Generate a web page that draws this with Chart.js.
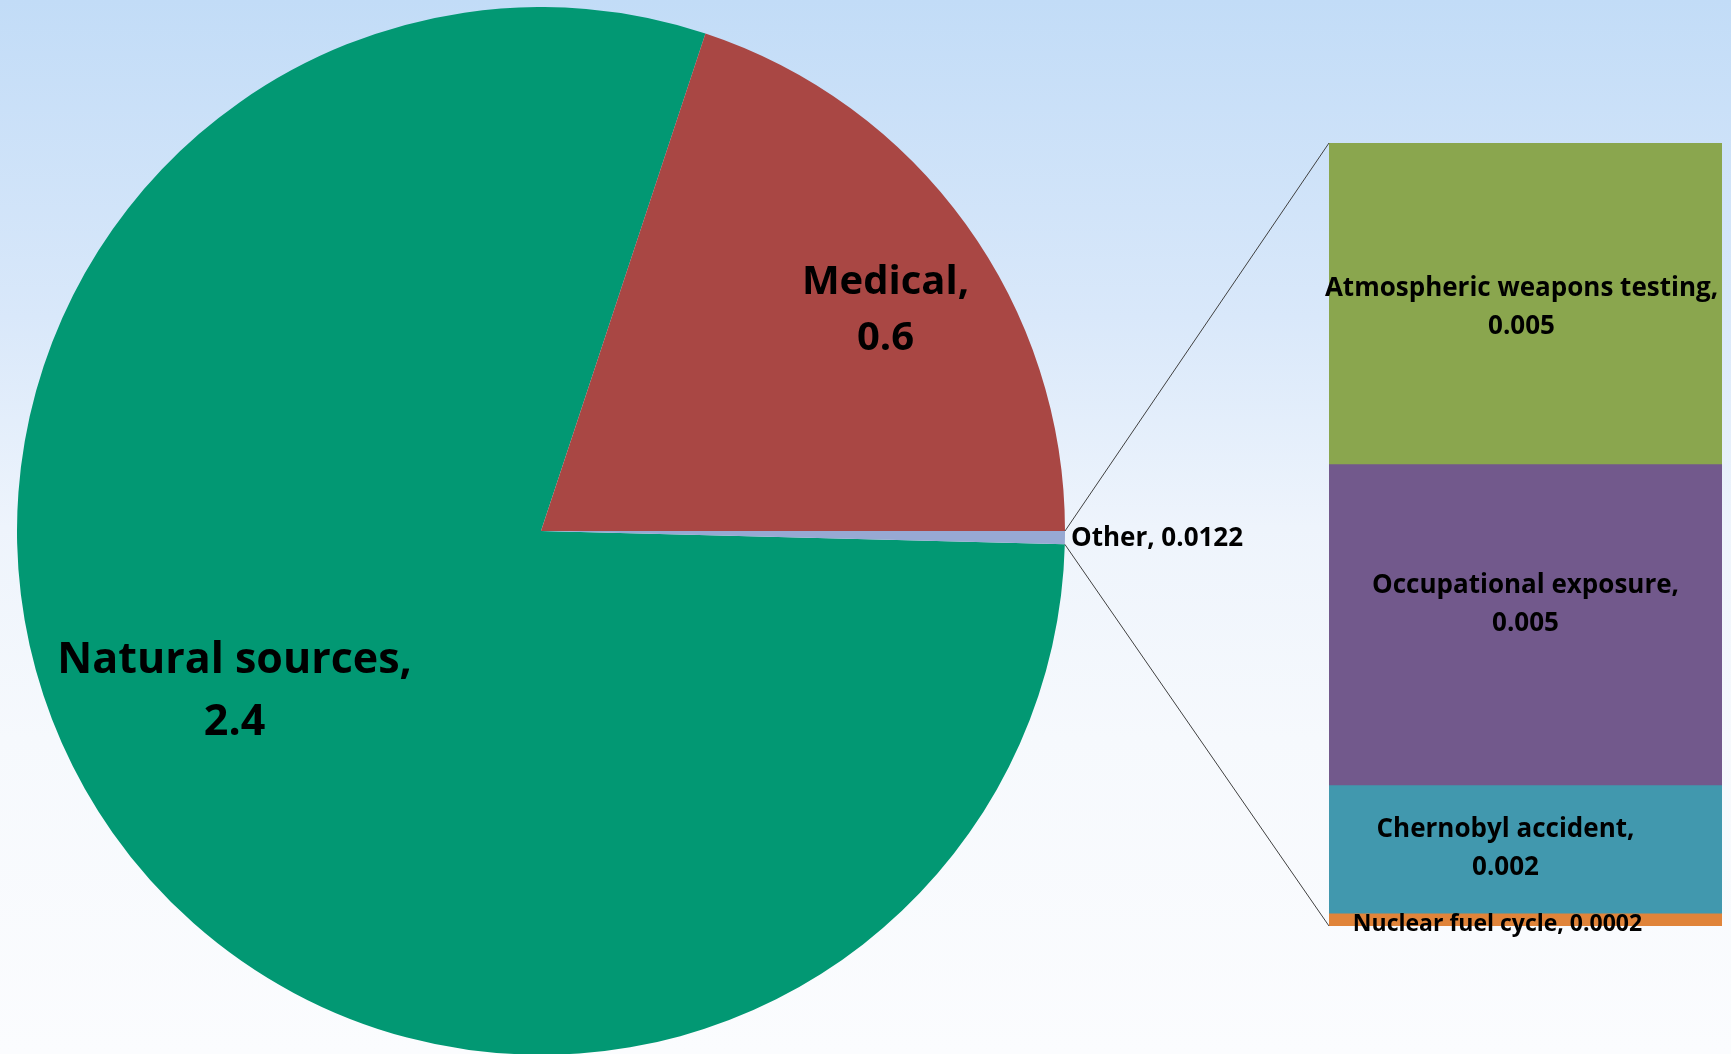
<!DOCTYPE html>
<html>
<head>
<meta charset="utf-8">
<script src="https://cdn.jsdelivr.net/npm/chart.js@4.4.1/dist/chart.umd.min.js"></script>
<style>
  html, body { margin: 0; padding: 0; }
  body {
    width: 1731px; height: 1054px; overflow: hidden; position: relative;
    background: linear-gradient(to bottom, #c2dcf7 0%, #d9e8fa 30%, #eef4fc 50%, #f6f9fd 70%, #fbfcfe 100%);
  }
  #pieChart { position: absolute; left: 17px; top: 7px; }
  #barChart { position: absolute; left: 1060px; top: 0px; }
</style>
</head>
<body>
<canvas id="pieChart" width="1048" height="1048"></canvas>
<canvas id="barChart" width="671" height="1054"></canvas>
<script>
// main pie
const pieLabels = ['Natural sources', 'Medical', 'Other'];
const pieValues = [2.4, 0.6, 0.0122];
const pieColors = ['#029873', '#a94744', '#97a9d3'];

// breakdown of "Other"
const otherLabels = ['Atmospheric weapons testing', 'Occupational exposure', 'Chernobyl accident', 'Nuclear fuel cycle'];
const otherValues = [0.005, 0.005, 0.002, 0.0002];
const otherColors = ['#8aa64e', '#72598c', '#4198ae', '#e0843a'];

const FONT = '"Open Sans", sans-serif';
const pieTotal = pieValues.reduce((a, b) => a + b, 0);
const otherTotal = otherValues.reduce((a, b) => a + b, 0);

// label placement per slice: angle shift (deg), radius factor, font size, line gap
const pieLabelPlace = [
  { shift: 7.5, r: 0.66, size: 43, gap: 31 },
  { shift: 3.3, r: 0.78, size: 40, gap: 28 },
  null
];
// nudges for the bar labels (px)
const barLabelNudge = [[-4, 4], [0, -20], [-20, 0], [-28, 5]];

const pieLabelPlugin = {
  id: 'pieLabels',
  afterDatasetsDraw(chart) {
    const ctx = chart.ctx;
    const meta = chart.getDatasetMeta(0);
    ctx.save();
    ctx.fillStyle = '#000';
    ctx.textAlign = 'center';
    ctx.textBaseline = 'middle';
    meta.data.forEach((arc, i) => {
      const place = pieLabelPlace[i];
      if (!place) return; // drawn beside the bar chart
      const mid = (arc.startAngle + arc.endAngle) / 2;
      const a = mid + place.shift * Math.PI / 180;
      const x = arc.x + Math.cos(a) * arc.outerRadius * place.r;
      const y = arc.y + Math.sin(a) * arc.outerRadius * place.r;
      ctx.font = 'bold ' + place.size + 'px ' + FONT;
      ctx.fillText(pieLabels[i] + ',', x, y - place.gap);
      ctx.fillText(String(pieValues[i]), x, y + place.gap);
    });
    ctx.restore();
  }
};

const pieChart = new Chart(document.getElementById('pieChart'), {
  type: 'pie',
  data: {
    labels: pieLabels,
    datasets: [{
      data: pieValues,
      backgroundColor: pieColors,
      borderWidth: 0
    }]
  },
  options: {
    responsive: false,
    animation: false,
    rotation: 90 + 360 * pieValues[2] / pieTotal,
    plugins: { legend: { display: false }, tooltip: { enabled: false } }
  },
  plugins: [pieLabelPlugin]
});

// connector lines from the "Other" slice to the stacked bar, plus labels
const barExtrasPlugin = {
  id: 'barExtras',
  afterDatasetsDraw(chart) {
    const ctx = chart.ctx;
    const pieRect = pieChart.canvas.getBoundingClientRect();
    const barRect = chart.canvas.getBoundingClientRect();
    const dx = pieRect.left - barRect.left;
    const dy = pieRect.top - barRect.top;
    const arc = pieChart.getDatasetMeta(0).data[2];
    const r = arc.outerRadius;
    const p1 = { x: arc.x + Math.cos(arc.startAngle) * r + dx, y: arc.y + Math.sin(arc.startAngle) * r + dy };
    const p2 = { x: arc.x + Math.cos(arc.endAngle) * r + dx, y: arc.y + Math.sin(arc.endAngle) * r + dy };
    const midA = (arc.startAngle + arc.endAngle) / 2;

    const first = chart.getDatasetMeta(0).data[0];
    const last = chart.getDatasetMeta(otherValues.length - 1).data[0];
    const topY = Math.min(first.y, first.base);
    const botY = Math.max(last.y, last.base);
    const leftX = first.x - first.width / 2;

    ctx.save();
    ctx.strokeStyle = '#404040';
    ctx.lineWidth = 1;
    ctx.beginPath();
    ctx.moveTo(p1.x, p1.y);
    ctx.lineTo(leftX, topY);
    ctx.moveTo(p2.x, p2.y);
    ctx.lineTo(leftX, botY);
    ctx.stroke();

    ctx.fillStyle = '#000';
    // "Other" slice label
    ctx.font = 'bold 26px ' + FONT;
    ctx.textAlign = 'left';
    ctx.textBaseline = 'middle';
    ctx.fillText(pieLabels[2] + ', ' + pieValues[2],
      arc.x + Math.cos(midA) * r + dx + 6, arc.y + Math.sin(midA) * r + dy + 1);

    ctx.textAlign = 'center';
    otherValues.forEach((v, i) => {
      const bar = chart.getDatasetMeta(i).data[0];
      const cx = bar.x + barLabelNudge[i][0];
      const cy = (bar.y + bar.base) / 2 + barLabelNudge[i][1];
      const h = Math.abs(bar.base - bar.y);
      if (h > 60) {
        ctx.font = 'bold 26px ' + FONT;
        ctx.fillText(otherLabels[i] + ',', cx, cy - 19);
        ctx.fillText(String(v), cx, cy + 19);
      } else {
        ctx.font = 'bold 23px ' + FONT;
        ctx.fillText(otherLabels[i] + ', ' + v, cx, cy);
      }
    });
    ctx.restore();
  }
};

new Chart(document.getElementById('barChart'), {
  type: 'bar',
  data: {
    labels: ['Other'],
    datasets: otherLabels.map((name, i) => ({
      label: name,
      data: [otherValues[i]],
      backgroundColor: otherColors[i],
      borderWidth: 0,
      barPercentage: 1,
      categoryPercentage: 1
    }))
  },
  options: {
    responsive: false,
    animation: false,
    layout: { padding: { left: 269, right: 9, top: 143, bottom: 128 } },
    scales: {
      x: { stacked: true, display: false },
      y: { stacked: true, display: false, min: 0, max: otherTotal, reverse: true }
    },
    plugins: { legend: { display: false }, tooltip: { enabled: false } }
  },
  plugins: [barExtrasPlugin]
});
</script>
</body>
</html>
